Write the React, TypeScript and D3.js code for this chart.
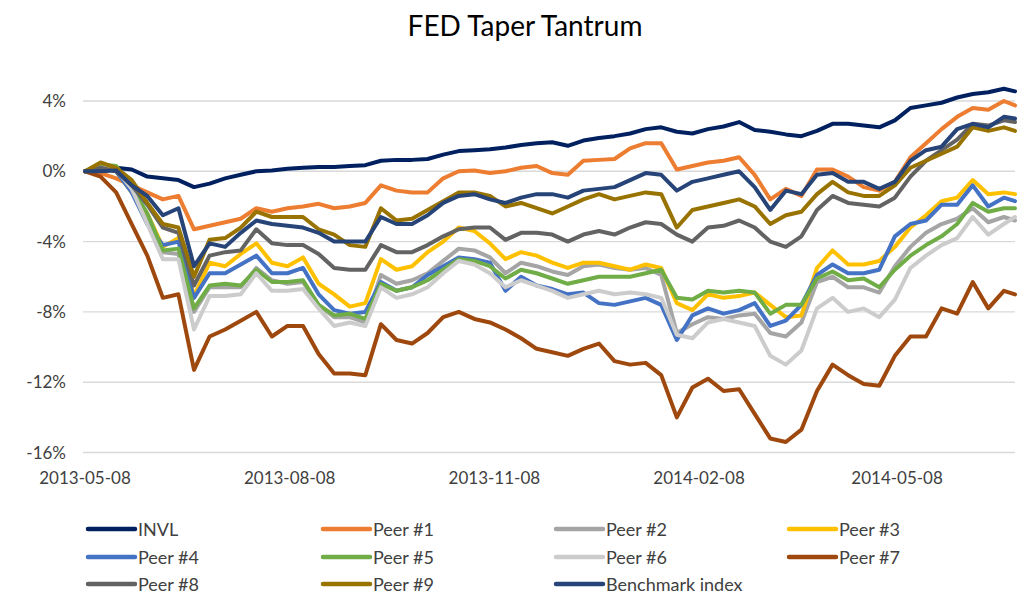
import React from "react";
import * as d3 from "d3";

// weekly observations, 2013-05-08 .. 2014-06-30
const dates = [
  "2013-05-08", "2013-05-15", "2013-05-22", "2013-05-29", "2013-06-05", "2013-06-12", "2013-06-19", "2013-06-26",
  "2013-07-03", "2013-07-10", "2013-07-17", "2013-07-24", "2013-07-31", "2013-08-07", "2013-08-14", "2013-08-21",
  "2013-08-28", "2013-09-04", "2013-09-11", "2013-09-18", "2013-09-25", "2013-10-02", "2013-10-09", "2013-10-16",
  "2013-10-23", "2013-10-30", "2013-11-06", "2013-11-13", "2013-11-20", "2013-11-27", "2013-12-04", "2013-12-11",
  "2013-12-18", "2013-12-25", "2014-01-01", "2014-01-08", "2014-01-15", "2014-01-22", "2014-01-29", "2014-02-05",
  "2014-02-12", "2014-02-19", "2014-02-26", "2014-03-05", "2014-03-12", "2014-03-19", "2014-03-26", "2014-04-02",
  "2014-04-09", "2014-04-16", "2014-04-23", "2014-04-30", "2014-05-07", "2014-05-14", "2014-05-21", "2014-05-28",
  "2014-06-04", "2014-06-11", "2014-06-18", "2014-06-25", "2014-06-30",
];

const invl = [
  0, 0, 0.2, 0.1, -0.3, -0.4, -0.5, -0.9, -0.7, -0.4, -0.2, 0, 0.05, 0.15, 0.2, 0.25,
  0.25, 0.3, 0.35, 0.6, 0.65, 0.65, 0.7, 0.95, 1.15, 1.2, 1.25, 1.35, 1.5, 1.6, 1.65, 1.45,
  1.75, 1.9, 2.0, 2.15, 2.4, 2.5, 2.25, 2.15, 2.4, 2.55, 2.8, 2.35, 2.25, 2.1, 2.0, 2.3,
  2.7, 2.7, 2.6, 2.5, 2.9, 3.6, 3.75, 3.9, 4.2, 4.4, 4.5, 4.7, 4.55,
];
const peer1 = [
  0, -0.1, -0.4, -0.8, -1.2, -1.6, -1.4, -3.3, -3.1, -2.9, -2.7, -2.1, -2.3, -2.1, -2.0, -1.85,
  -2.1, -2.0, -1.8, -0.8, -1.1, -1.2, -1.2, -0.4, 0, 0.05, -0.1, 0, 0.2, 0.3, -0.1, -0.2,
  0.6, 0.65, 0.7, 1.3, 1.6, 1.6, 0.1, 0.3, 0.5, 0.6, 0.8, -0.2, -1.6, -1.0, -1.4, 0.1,
  0.1, -0.3, -0.9, -1.1, -0.6, 0.8, 1.6, 2.4, 3.1, 3.6, 3.5, 4.0, 3.75,
];
const peer2 = [
  0, 0.3, 0.2, -1.0, -2.8, -4.6, -4.7, -8.0, -6.6, -6.6, -6.6, -5.5, -6.2, -6.4, -6.3, -7.6,
  -8.3, -8.3, -8.6, -5.9, -6.4, -6.2, -5.8, -5.1, -4.4, -4.5, -4.9, -5.8, -5.2, -5.4, -5.7, -5.9,
  -5.4, -5.3, -5.5, -5.6, -5.5, -5.9, -9.2, -8.7, -8.3, -8.4, -8.2, -8.1, -9.2, -9.4, -8.6, -6.3,
  -6.0, -6.6, -6.6, -6.9, -5.4, -4.3, -3.5, -3.0, -2.7, -2.1, -2.9, -2.6, -2.8,
];
const peer3 = [
  0, 0.3, 0, -1.2, -2.4, -4.3, -3.8, -7.1, -5.2, -5.4, -4.7, -4.1, -5.2, -5.4, -4.9, -6.4,
  -7.0, -7.7, -7.5, -5.0, -5.6, -5.4, -4.6, -4.0, -3.2, -3.4, -4.1, -5.0, -4.6, -4.8, -5.2, -5.5,
  -5.2, -5.2, -5.4, -5.6, -5.3, -5.5, -7.5, -7.9, -7.0, -7.2, -7.1, -6.9, -7.6, -8.3, -8.2, -5.5,
  -4.5, -5.3, -5.3, -5.1, -4.3, -3.2, -2.5, -1.7, -1.5, -0.5, -1.3, -1.2, -1.3,
];
const peer4 = [
  0, 0.3, 0, -1.2, -3.0, -4.2, -4.0, -7.2, -5.8, -5.8, -5.3, -4.8, -5.8, -5.8, -5.5, -7.0,
  -7.9, -8.1, -8.0, -6.3, -6.8, -6.6, -5.9, -5.4, -4.9, -5.0, -5.2, -6.8, -6.0, -6.5, -6.7, -7.0,
  -6.9, -7.5, -7.6, -7.4, -7.2, -7.6, -9.6, -8.2, -7.8, -8.1, -7.9, -7.5, -8.8, -8.5, -7.6, -5.9,
  -5.3, -5.8, -5.8, -5.6, -3.7, -3.0, -2.8, -1.9, -1.9, -0.8, -2.0, -1.5, -1.7,
];
const peer5 = [
  0, 0.4, 0.3, -0.9, -2.4, -4.5, -4.4, -7.8, -6.5, -6.4, -6.5, -5.6, -6.3, -6.3, -6.2, -7.6,
  -8.2, -8.1, -8.4, -6.4, -6.8, -6.6, -6.2, -5.6, -5.0, -5.1, -5.4, -6.1, -5.6, -5.8, -6.1, -6.4,
  -6.2, -6.0, -6.0, -6.0, -5.8, -5.6, -7.2, -7.3, -6.8, -6.9, -6.8, -6.9, -8.1, -7.6, -7.6, -6.1,
  -5.7, -6.2, -6.1, -6.6, -5.6, -4.8, -4.2, -3.7, -3.0, -1.8, -2.3, -2.1, -2.1,
];
const peer6 = [
  0, 0.2, 0.1, -1.0, -3.0, -5.0, -5.0, -9.0, -7.1, -7.1, -7.0, -5.8, -6.8, -6.8, -6.7, -7.8,
  -8.8, -8.6, -8.8, -6.6, -7.2, -7.0, -6.6, -5.8, -5.1, -5.3, -5.8, -6.6, -6.2, -6.5, -6.8, -7.2,
  -7.0, -6.8, -7.0, -6.9, -7.0, -7.2, -9.3, -9.5, -8.6, -8.4, -8.6, -8.8, -10.5, -11.0, -10.2, -7.8,
  -7.2, -8.0, -7.8, -8.3, -7.3, -5.5, -4.8, -4.2, -3.8, -2.6, -3.6, -3.0, -2.6,
];
const peer7 = [
  0, -0.3, -1.2, -3.0, -4.8, -7.2, -7.0, -11.3, -9.4, -9.0, -8.5, -8.0, -9.4, -8.8, -8.8, -10.4,
  -11.5, -11.5, -11.6, -8.7, -9.6, -9.8, -9.2, -8.3, -8.0, -8.4, -8.6, -9.0, -9.5, -10.1, -10.3, -10.5,
  -10.1, -9.8, -10.8, -11.0, -10.9, -11.6, -14.0, -12.3, -11.8, -12.5, -12.4, -13.8, -15.2, -15.4, -14.7, -12.5,
  -11.0, -11.6, -12.1, -12.2, -10.5, -9.4, -9.4, -7.8, -8.1, -6.3, -7.8, -6.8, -7.0,
];
const peer8 = [
  0, 0.2, 0, -0.8, -1.9, -3.2, -3.5, -6.5, -4.8, -4.6, -4.5, -3.3, -4.1, -4.2, -4.2, -4.7,
  -5.5, -5.6, -5.6, -4.2, -4.6, -4.6, -4.2, -3.7, -3.3, -3.2, -3.2, -3.9, -3.5, -3.5, -3.6, -4.0,
  -3.6, -3.4, -3.6, -3.2, -2.9, -3.0, -3.6, -4.0, -3.2, -3.1, -2.8, -3.2, -4.0, -4.3, -3.7, -2.2,
  -1.4, -1.8, -1.9, -2.0, -1.5, -0.3, 0.6, 1.2, 1.8, 2.7, 2.6, 2.9, 2.8,
];
const peer9 = [
  0, 0.5, 0.2, -0.5, -1.8, -3.0, -3.2, -6.0, -3.9, -3.8, -3.2, -2.3, -2.6, -2.6, -2.6, -3.3,
  -3.6, -4.2, -4.3, -2.1, -2.8, -2.7, -2.2, -1.7, -1.2, -1.2, -1.4, -2.0, -1.8, -2.1, -2.4, -2.0,
  -1.6, -1.3, -1.6, -1.4, -1.2, -1.3, -3.2, -2.2, -2.0, -1.8, -1.6, -2.0, -3.0, -2.5, -2.3, -1.3,
  -0.6, -1.2, -1.4, -1.4, -0.8, 0.2, 0.6, 1.0, 1.4, 2.5, 2.3, 2.5, 2.3,
];
const benchmark = [
  0, 0, 0.05, -0.8, -1.4, -2.5, -2.1, -5.4, -4.1, -4.3, -3.5, -2.8, -3.0, -3.1, -3.2, -3.5,
  -4.0, -4.0, -4.0, -2.6, -3.0, -3.0, -2.5, -1.8, -1.4, -1.3, -1.6, -1.8, -1.5, -1.3, -1.3, -1.5,
  -1.1, -1.0, -0.9, -0.5, -0.1, -0.2, -1.1, -0.6, -0.4, -0.2, 0, -0.9, -2.2, -1.1, -1.3, -0.2,
  -0.1, -0.6, -0.6, -1.0, -0.6, 0.6, 1.2, 1.4, 2.4, 2.7, 2.5, 3.1, 3.0,
];

const seriesNames = ["INVL", "Peer #1", "Peer #2", "Peer #3", "Peer #4", "Peer #5", "Peer #6", "Peer #7", "Peer #8", "Peer #9", "Benchmark index"];
const seriesValues = [invl, peer1, peer2, peer3, peer4, peer5, peer6, peer7, peer8, peer9, benchmark];
const seriesColors = ["#002060", "#ED7D31", "#A5A5A5", "#FFC000", "#4472C4", "#70AD47", "#CCCCCC", "#9E480E", "#636363", "#997300", "#264478"];

const yTicks = [4, 0, -4, -8, -12, -16];
const xTickLabels = ["2013-05-08", "2013-08-08", "2013-11-08", "2014-02-08", "2014-05-08"];

const W = 1025;
const H = 615;
const font = "Lato, 'Open Sans', sans-serif";

export default function App() {
  const parse = d3.utcParse("%Y-%m-%d");
  const parsed = dates.map((d) => parse(d) as Date);

  const x = d3
    .scaleUtc()
    .domain([parse("2013-05-08") as Date, parse("2014-06-30") as Date])
    .range([85, 1015]);
  const y = d3.scaleLinear().domain([-16, 4]).range([452.5, 101]);

  const line = d3
    .line<number>()
    .x((_, i) => x(parsed[i]))
    .y((v) => y(v));

  const legendCols = [88, 323, 556, 789];
  const legendRows = [529, 557, 584];

  return (
    <svg
      width={W}
      height={H}
      style={{ position: "absolute", left: 0, top: 0, background: "#fff" }}
      fontFamily={font}
    >
      <text x={525} y={36} textAnchor="middle" fontSize={28} fill="#000">
        FED Taper Tantrum
      </text>

      {/* gridlines */}
      <g>
        {yTicks.map((t) => (
          <line key={t} x1={83} x2={1015} y1={y(t)} y2={y(t)} stroke="#D9D9D9" strokeWidth={1.4} />
        ))}
      </g>

      {/* y labels */}
      <g>
        {yTicks.map((t) => (
          <text key={t} x={66} y={y(t) + 6} textAnchor="end" fontSize={17} fill="#404040">
            {`${t}%`}
          </text>
        ))}
      </g>

      {/* x labels */}
      <g>
        {xTickLabels.map((d) => (
          <text key={d} x={x(parse(d) as Date)} y={484} textAnchor="middle" fontSize={17} fill="#404040">
            {d}
          </text>
        ))}
      </g>

      {/* series */}
      <g fill="none" strokeLinejoin="round" strokeLinecap="round">
        {seriesValues.map((vals, i) => (
          <path key={seriesNames[i]} d={line(vals) || ""} stroke={seriesColors[i]} strokeWidth={4} />
        ))}
      </g>

      {/* legend */}
      <g>
        {seriesNames.map((name, i) => {
          const lx = legendCols[i % 4];
          const ly = legendRows[Math.floor(i / 4)];
          return (
            <g key={name}>
              <line x1={lx} x2={lx + 47} y1={ly} y2={ly} stroke={seriesColors[i]} strokeWidth={4.5} strokeLinecap="round" />
              <text x={lx + 50} y={ly + 6.5} fontSize={18} fill="#404040">
                {name}
              </text>
            </g>
          );
        })}
      </g>
    </svg>
  );
}
